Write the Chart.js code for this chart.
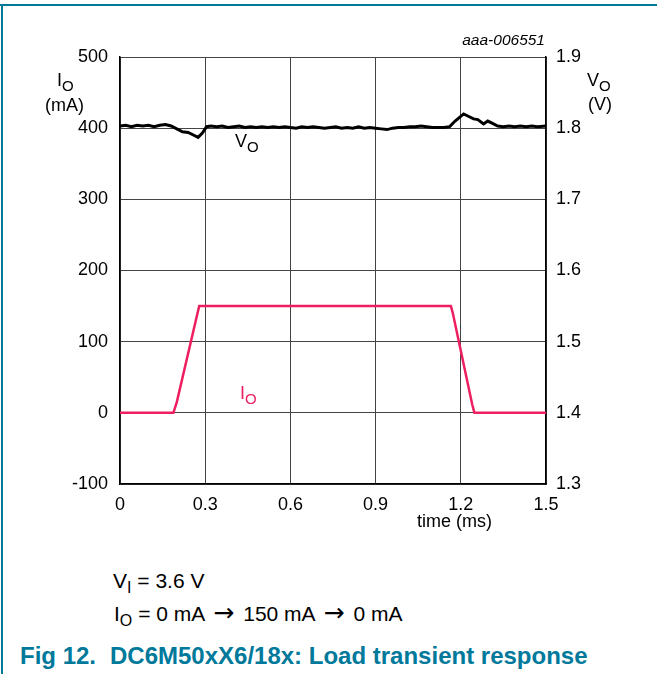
<!DOCTYPE html>
<html>
<head>
<meta charset="utf-8">
<script src="https://cdn.jsdelivr.net/npm/chart.js@4.4.1/dist/chart.umd.min.js"></script>
<style>
  body { margin: 0; background: #fff; font-family: "Liberation Sans", Arial, sans-serif; }
  #wrap { position: relative; width: 657px; height: 674px; overflow: hidden; }
  #frameTop { position: absolute; left: 0; top: 4px; width: 657px; height: 2px; background: #00799b; }
  #frameLeft { position: absolute; left: 1px; top: 4px; width: 2px; height: 670px; background: #00799b; }
  #chartBox { position: absolute; left: 0; top: 0; width: 657px; height: 540px; }
  .lbl { position: absolute; color: #000; font-size: 18px; line-height: 1; white-space: nowrap; }
  .lbl sub { font-size: 15px; vertical-align: -5px; line-height: 1; }
  .big { font-size: 21px; }
  .big sub { font-size: 16px; vertical-align: -5px; }
  .arr { font-family: "DejaVu Sans", sans-serif; font-size: 25px; margin: 0 9px 0 8px; line-height: 1; }
  .pink { color: #ee1f60; }
  .fig { position: absolute; top: 644px; color: #00799b; font-weight: bold; font-size: 24px; line-height: 1; white-space: nowrap; }
</style>
</head>
<body>
<div id="wrap">
  <div id="frameTop"></div>
  <div id="frameLeft"></div>
  <div id="chartBox"><canvas id="chart" width="657" height="540"></canvas></div>

  <div class="lbl" style="right:112px; top:32px; font-size:15.5px; font-style:italic;">aaa-006551</div>
  <div class="lbl" style="left:57px; top:71px;">I<sub>O</sub></div>
  <div class="lbl" style="left:45px; top:96px;">(mA)</div>
  <div class="lbl" style="left:587px; top:71px;">V<sub>O</sub></div>
  <div class="lbl" style="left:588px; top:95px;">(V)</div>
  <div class="lbl" style="left:235px; top:132px;">V<sub>O</sub></div>
  <div class="lbl pink" style="left:240px; top:384px;">I<sub>O</sub></div>
  <div class="lbl" style="left:417px; top:512px;">time (ms)</div>

  <div class="lbl big" style="left:113px; top:570px;">V<sub>I</sub> = 3.6 V</div>
  <div class="lbl big" style="left:114px; top:600px;">I<sub>O</sub> = 0 mA<span class="arr">&rarr;</span>150 mA<span class="arr">&rarr;</span>0 mA</div>
  <div class="fig" style="left:20px;">Fig 12.</div>
  <div class="fig" style="left:110px;">DC6M50xX6/18x: Load transient response</div>
</div>

<script>
// axis ticks
const timeTicks = [0, 0.3, 0.6, 0.9, 1.2, 1.5];
const currentTicks = [-100, 0, 100, 200, 300, 400, 500];
const voltTicks = [1.3, 1.4, 1.5, 1.6, 1.7, 1.8, 1.9];

// IO (mA)
const ioTime = [0, 0.188, 0.2, 0.27, 0.279, 1.165, 1.172, 1.24, 1.248, 1.5];
const ioVals = [0, 0, 15, 135, 150, 150, 140, 12, 0, 0];

// VO (V)
const voTime = [0.00, 0.02, 0.04, 0.06, 0.08, 0.10, 0.12, 0.14, 0.16, 0.18,
  0.20, 0.22, 0.24, 0.26, 0.275, 0.29, 0.305, 0.32, 0.34, 0.36,
  0.38, 0.40, 0.42, 0.44, 0.46, 0.48, 0.50, 0.52, 0.54, 0.56,
  0.58, 0.60, 0.62, 0.64, 0.66, 0.68, 0.70, 0.72, 0.74, 0.76,
  0.78, 0.80, 0.82, 0.84, 0.86, 0.88, 0.90, 0.92, 0.94, 0.96,
  0.98, 1.00, 1.02, 1.04, 1.06, 1.08, 1.10, 1.12, 1.14, 1.16,
  1.18, 1.21, 1.23, 1.245, 1.26, 1.28, 1.295, 1.31, 1.33, 1.35,
  1.37, 1.39, 1.41, 1.43, 1.45, 1.47, 1.50];
const voVals = [1.803, 1.804, 1.802, 1.804, 1.803, 1.804, 1.802, 1.804, 1.805, 1.803,
  1.799, 1.795, 1.794, 1.790, 1.787, 1.793, 1.802, 1.803, 1.802, 1.803,
  1.801, 1.802, 1.803, 1.801, 1.802, 1.801, 1.802, 1.801, 1.802, 1.801,
  1.802, 1.801, 1.800, 1.802, 1.801, 1.802, 1.801, 1.800, 1.801, 1.802,
  1.800, 1.801, 1.800, 1.802, 1.800, 1.801, 1.800, 1.799, 1.798, 1.800,
  1.801, 1.801, 1.802, 1.802, 1.803, 1.802, 1.801, 1.801, 1.801, 1.802,
  1.810, 1.820, 1.816, 1.813, 1.812, 1.806, 1.810, 1.807, 1.803, 1.802,
  1.803, 1.802, 1.803, 1.802, 1.803, 1.802, 1.803];

function pts(xs, ys) {
  return xs.map((x, i) => ({ x: x, y: ys[i] }));
}

function fixTicks(list) {
  return function (scale) { scale.ticks = list.map(v => ({ value: v })); };
}

const tickFont = { family: '"Liberation Sans", Arial, sans-serif', size: 18 };
const gridStyle = { color: '#444', lineWidth: 1, drawTicks: false };
const borderStyle = { color: '#000', width: 1.5 };

new Chart(document.getElementById('chart').getContext('2d'), {
  type: 'line',
  data: {
    datasets: [
      {
        label: 'VO',
        data: pts(voTime, voVals),
        yAxisID: 'yV',
        borderColor: '#000',
        borderWidth: 3,
        pointRadius: 0,
        tension: 0
      },
      {
        label: 'IO',
        data: pts(ioTime, ioVals),
        yAxisID: 'yI',
        borderColor: '#ee1f60',
        borderWidth: 2.5,
        pointRadius: 0,
        tension: 0
      }
    ]
  },
  options: {
    responsive: false,
    animation: false,
    layout: { padding: { top: 57, left: 0, right: 0, bottom: 0 } },
    plugins: { legend: { display: false }, tooltip: { enabled: false } },
    scales: {
      x: {
        type: 'linear', min: 0, max: 1.5,
        afterBuildTicks: fixTicks(timeTicks),
        afterFit: s => { s.height = 56; },
        grid: gridStyle, border: borderStyle,
        ticks: { color: '#000', font: tickFont, padding: 10, maxRotation: 0,
          callback: v => String(v) }
      },
      yI: {
        position: 'left', min: -100, max: 500,
        afterBuildTicks: fixTicks(currentTicks),
        afterFit: s => { s.width = 120; },
        grid: gridStyle, border: borderStyle,
        ticks: { color: '#000', font: tickFont, padding: 12 }
      },
      yV: {
        position: 'right', min: 1.3, max: 1.9,
        afterBuildTicks: fixTicks(voltTicks),
        afterFit: s => { s.width = 111; },
        grid: { drawOnChartArea: false, drawTicks: false },
        border: borderStyle,
        ticks: { color: '#000', font: tickFont, padding: 10,
          callback: v => v.toFixed(1) }
      }
    }
  }
});
</script>
</body>
</html>
